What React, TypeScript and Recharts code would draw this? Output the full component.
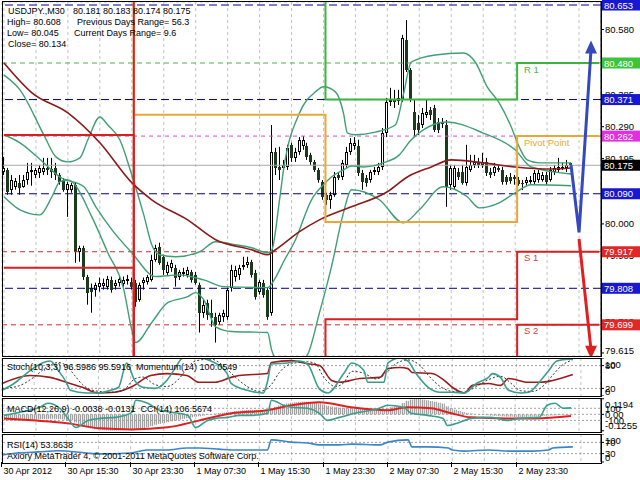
import React from 'react';
import { ComposedChart, Bar, Line, XAxis, YAxis, CartesianGrid, ReferenceLine } from 'recharts';

const FONT = '"Liberation Sans", Arial, sans-serif';

// USDJPY M30 candles, bar 0 = 30 Apr 07:30
const open = [
  80.155, 80.161, 80.102, 80.111, 80.123, 80.111, 80.131, 80.155, 80.146, 80.152,
  80.155, 80.167, 80.164, 80.167, 80.146, 80.131, 80.102, 80.102, 80.117, 79.917,
  79.929, 79.843, 79.81, 79.804, 79.813, 79.816, 79.813, 79.833, 79.816, 79.825,
  79.822, 79.831, 79.828, 79.825, 79.774, 79.825, 79.828, 79.833, 79.893, 79.932,
  79.902, 79.854, 79.869, 79.869, 79.843, 79.851, 79.848, 79.857, 79.848, 79.819,
  79.735, 79.765, 79.735, 79.723, 79.708, 79.723, 79.723, 79.81, 79.843, 79.848,
  79.872, 79.878, 79.887, 79.854, 79.798, 79.825, 79.804, 79.735, 80.215, 80.17,
  80.167, 80.17, 80.236, 80.197, 80.215, 80.233, 80.233, 80.206, 80.185, 80.161,
  80.126, 80.087, 80.072, 80.087, 80.146, 80.14, 80.176, 80.215, 80.233, 80.233,
  80.152, 80.137, 80.131, 80.155, 80.155, 80.17, 80.271, 80.364, 80.37, 80.367,
  80.37, 80.549, 80.459, 80.334, 80.301, 80.295, 80.325, 80.34, 80.346, 80.304,
  80.304, 80.295, 80.117, 80.111, 80.155, 80.155, 80.123, 80.161, 80.176, 80.185,
  80.176, 80.185, 80.155, 80.152, 80.167, 80.161, 80.14, 80.14, 80.14, 80.131,
  80.123, 80.123, 80.126, 80.126, 80.131, 80.131, 80.146, 80.131, 80.155, 80.161,
  80.167, 80.167, 80.181,
];
const high = [
  80.2, 80.167, 80.146, 80.137, 80.146, 80.146, 80.182, 80.182, 80.167, 80.176,
  80.197, 80.197, 80.197, 80.182, 80.152, 80.137, 80.126, 80.123, 80.123, 79.935,
  79.935, 79.848, 79.822, 79.825, 79.84, 79.837, 79.845, 79.843, 79.833, 79.845,
  79.843, 79.848, 79.84, 79.833, 79.825, 79.84, 79.848, 79.908, 79.938, 79.944,
  79.908, 79.887, 79.893, 79.878, 79.863, 79.869, 79.872, 79.863, 79.857, 79.825,
  79.774, 79.774, 79.774, 79.735, 79.735, 79.744, 79.81, 79.878, 79.875, 79.878,
  79.902, 79.902, 79.893, 79.863, 79.833, 79.833, 79.81, 80.295, 80.227, 80.23,
  80.191, 80.236, 80.242, 80.227, 80.259, 80.262, 80.242, 80.212, 80.191, 80.167,
  80.131, 80.093, 80.096, 80.155, 80.155, 80.191, 80.23, 80.256, 80.259, 80.251,
  80.161, 80.146, 80.161, 80.17, 80.182, 80.286, 80.376, 80.406, 80.4, 80.4,
  80.564, 80.608, 80.465, 80.37, 80.325, 80.346, 80.37, 80.349, 80.355, 80.316,
  80.316, 80.31, 80.176, 80.176, 80.167, 80.176, 80.236, 80.206, 80.206, 80.197,
  80.212, 80.197, 80.167, 80.182, 80.176, 80.17, 80.146, 80.152, 80.146, 80.14,
  80.131, 80.14, 80.143, 80.161, 80.161, 80.155, 80.155, 80.17, 80.176, 80.197,
  80.182, 80.191, 80.183,
];
const low = [
  80.146, 80.087, 80.087, 80.102, 80.087, 80.108, 80.117, 80.114, 80.137, 80.137,
  80.146, 80.146, 80.137, 80.131, 80.117, 80.096, 80.021, 80.093, 79.884, 79.887,
  79.833, 79.759, 79.735, 79.783, 79.798, 79.804, 79.804, 79.795, 79.804, 79.813,
  79.813, 79.819, 79.804, 79.753, 79.768, 79.804, 79.819, 79.828, 79.887, 79.878,
  79.848, 79.845, 79.857, 79.813, 79.833, 79.843, 79.84, 79.825, 79.819, 79.676,
  79.72, 79.714, 79.693, 79.646, 79.699, 79.708, 79.714, 79.798, 79.828, 79.833,
  79.863, 79.869, 79.84, 79.774, 79.789, 79.78, 79.714, 79.726, 80.146, 80.131,
  80.155, 80.161, 80.185, 80.185, 80.206, 80.221, 80.191, 80.176, 80.155, 80.123,
  80.072, 80.057, 80.045, 80.081, 80.131, 80.131, 80.167, 80.206, 80.221, 80.143,
  80.102, 80.111, 80.123, 80.146, 80.146, 80.161, 80.259, 80.352, 80.346, 80.355,
  80.364, 80.453, 80.364, 80.259, 80.265, 80.286, 80.316, 80.31, 80.274, 80.271,
  80.286, 80.051, 80.102, 80.102, 80.131, 80.117, 80.114, 80.155, 80.167, 80.167,
  80.167, 80.143, 80.137, 80.143, 80.155, 80.117, 80.117, 80.12, 80.117, 80.114,
  80.101, 80.114, 80.12, 80.117, 80.123, 80.126, 80.117, 80.126, 80.146, 80.155,
  80.161, 80.155, 80.174,
];
const close = [
  80.167, 80.096, 80.131, 80.128, 80.108, 80.131, 80.155, 80.161, 80.161, 80.167,
  80.167, 80.161, 80.155, 80.146, 80.126, 80.102, 80.12, 80.117, 79.917, 79.929,
  79.843, 79.795, 79.798, 79.819, 79.825, 79.825, 79.837, 79.804, 79.825, 79.837,
  79.833, 79.837, 79.813, 79.768, 79.819, 79.833, 79.843, 79.893, 79.929, 79.884,
  79.863, 79.878, 79.884, 79.84, 79.857, 79.857, 79.863, 79.833, 79.825, 79.735,
  79.759, 79.729, 79.72, 79.699, 79.729, 79.735, 79.804, 79.863, 79.863, 79.869,
  79.878, 79.887, 79.848, 79.783, 79.828, 79.789, 79.723, 80.215, 80.167, 80.161,
  80.176, 80.227, 80.197, 80.215, 80.251, 80.251, 80.2, 80.185, 80.161, 80.131,
  80.081, 80.072, 80.087, 80.14, 80.137, 80.182, 80.215, 80.242, 80.242, 80.152,
  80.126, 80.123, 80.155, 80.161, 80.17, 80.271, 80.364, 80.37, 80.364, 80.376,
  80.555, 80.459, 80.37, 80.28, 80.28, 80.331, 80.334, 80.325, 80.28, 80.28,
  80.299, 80.111, 80.167, 80.167, 80.14, 80.123, 80.17, 80.176, 80.185, 80.176,
  80.185, 80.152, 80.146, 80.17, 80.161, 80.126, 80.126, 80.128, 80.134, 80.12,
  80.12, 80.131, 80.131, 80.152, 80.152, 80.146, 80.126, 80.161, 80.167, 80.17,
  80.17, 80.176, 80.175,
];

// indicator lines read at key bars: [bar, value]
const maPts = [[0, 80.48], [7, 80.391], [16, 80.331], [24, 80.242], [32, 80.123], [37, 80.072], [46, 80.012], [53, 79.953], [62, 79.923], [66, 79.908], [68, 79.923], [74, 79.977], [79, 80.012], [87, 80.051], [96, 80.096], [101, 80.14], [107, 80.17], [112, 80.191], [120, 80.182], [128, 80.17], [137, 80.164], [142, 80.167]];
const bbUpPts = [[0, 80.444], [4, 80.4], [10, 80.265], [13, 80.2], [16, 80.185], [19, 80.197], [21, 80.251], [24, 80.319], [26, 80.295], [29, 80.251], [32, 80.146], [35, 80.027], [37, 79.938], [39, 79.908], [43, 79.902], [49, 79.917], [53, 79.947], [58, 79.938], [62, 79.929], [66, 79.914], [67, 79.92], [69, 80.072], [70, 80.161], [74, 80.331], [78, 80.394], [80, 80.409], [83, 80.394], [85, 80.331], [86, 80.271], [88, 80.266], [93, 80.274], [98, 80.295], [100, 80.385], [102, 80.483], [108, 80.504], [115, 80.51], [118, 80.483], [121, 80.409], [124, 80.361], [127, 80.29], [129, 80.23], [131, 80.191], [134, 80.182], [142, 80.182]];
const bbMidPts = [[0, 80.266], [4, 80.242], [10, 80.182], [14, 80.14], [20, 80.111], [23, 80.051], [27, 79.983], [32, 79.914], [38, 79.843], [44, 79.848], [50, 79.833], [55, 79.813], [66, 79.81], [68, 79.84], [70, 79.887], [73, 79.953], [77, 80.072], [80, 80.117], [82, 80.14], [85, 80.161], [87, 80.173], [90, 80.17], [95, 80.182], [99, 80.206], [102, 80.251], [111, 80.304], [120, 80.271], [128, 80.221], [132, 80.17], [142, 80.149]];
const bbLowPts = [[0, 80.081], [4, 80.042], [9, 80.027], [12, 80.081], [14, 80.126], [16, 80.131], [17, 80.126], [22, 80.021], [26, 79.914], [30, 79.804], [32, 79.684], [33, 79.646], [37, 79.706], [41, 79.765], [46, 79.783], [48, 79.795], [50, 79.774], [53, 79.693], [57, 79.679], [66, 79.676], [67, 79.625], [69, 79.58], [72, 79.559], [74, 79.589], [76, 79.61], [79, 79.735], [82, 79.872], [85, 80.033], [87, 80.102], [94, 80.072], [100, 80.003], [104, 80.042], [110, 80.111], [116, 80.081], [119, 80.048], [124, 80.063], [128, 80.093], [132, 80.117], [142, 80.114]];

// daily pivot levels (day 1 starts at bar 0); values outside the window get clipped
const dayStarts = [0, 33, 81, 129];
const pivotDay = [80.75, 80.326, 80.006, 80.262];
const r1Day = [80.95, 80.85, 80.371, 80.48];
const s1Day = [80.7, 79.45, 79.716, 79.917];
const s2Day = [80.265, 79.35, 79.4, 79.699];
const s3Day = [79.869, 79.3, 79.3, 79.45];

const blueArrowPts = [[142, 80.175], [144, 79.975], [147, 80.52]];
const redArrowPts = [[144, 79.955], [147, 79.625]];

const priceTicks = [80.58, 80.483, 80.385, 80.29, 80.195, 80.098, 80.0, 79.905, 79.808, 79.71, 79.615];
const levelValues = [80.653, 80.48, 80.371, 80.262, 80.175, 80.09, 79.917, 79.808, 79.699];
const levelBoxColors = ['#1818d0', '#3cc43c', '#1818d0', '#e030e0', '#000000', '#1818d0', '#e02828', '#1818d0', '#e02828'];
const levelLineColors = ['#000080', '#50b050', '#000080', '#d050d0', '#a8a8a8', '#000080', '#c83030', '#000080', '#c83030'];
const levelDash = ['8 4', '5 4', '8 4', '4 4', '', '8 4', '5 4', '8 4', '5 4'];

const stochPts = [[0, 15], [3, 33], [7, 67], [10, 87], [12, 92], [14, 67], [16, 36], [17, 15], [21, 8], [24, 8], [27, 15], [29, 23], [31, 87], [33, 41], [35, 23], [38, 20], [41, 41], [43, 72], [45, 100], [49, 100], [52, 92], [56, 59], [57, 33], [61, 15], [65, 8], [66, 36], [67, 84], [71, 87], [74, 92], [76, 84], [79, 18], [81, 8], [85, 59], [87, 87], [90, 67], [91, 36], [95, 36], [96, 87], [99, 100], [101, 92], [103, 59], [106, 23], [109, 10], [112, 10], [115, 8], [118, 33], [121, 49], [122, 59], [124, 49], [126, 15], [129, 8], [131, 10], [134, 41], [136, 67], [138, 92], [141, 97], [142, 96.5986]];
const stochSigPts = [[0, 20], [4, 26], [8, 50], [11, 75], [14, 88], [16, 80], [18, 55], [20, 30], [23, 14], [27, 10], [30, 14], [33, 45], [35, 50], [38, 30], [41, 25], [44, 45], [46, 72], [48, 92], [52, 97], [55, 80], [58, 50], [61, 25], [64, 12], [67, 30], [69, 62], [72, 85], [76, 90], [78, 85], [80, 50], [83, 25], [85, 35], [87, 65], [90, 60], [93, 45], [95, 55], [98, 85], [101, 95], [104, 80], [106, 55], [109, 25], [112, 12], [115, 10], [118, 25], [121, 43], [124, 52], [127, 30], [129, 14], [132, 12], [135, 30], [137, 55], [139, 78], [142, 95.5916]];
const momPts = [[0, 99.82], [7, 100.03], [12, 99.98], [16, 99.85], [20, 99.72], [24, 99.57], [28, 99.59], [32, 99.72], [37, 100.03], [41, 100.08], [46, 100.03], [49, 99.85], [53, 99.85], [57, 99.98], [59, 100.03], [66, 100.08], [67, 100.37], [72, 100.42], [76, 100.34], [79, 100.29], [82, 99.9], [84, 99.85], [89, 99.95], [94, 99.98], [96, 100.21], [99, 100.24], [101, 100.21], [102, 100.11], [107, 100.08], [110, 99.9], [112, 99.72], [115, 99.57], [117, 99.77], [121, 99.82], [124, 99.77], [126, 99.95], [131, 99.85], [134, 99.85], [137, 99.9], [142, 100.0549]];

const macdHist = [
  -0.048, -0.048, -0.049, -0.048, -0.047, -0.046, -0.044, -0.042, -0.04, -0.038, -0.036, -0.035, -0.034, -0.034, -0.036, -0.04,
  -0.044, -0.046, -0.062, -0.074, -0.088, -0.1, -0.108, -0.114, -0.118, -0.121, -0.123, -0.125, -0.124, -0.122, -0.12,
  -0.117, -0.115, -0.116, -0.112, -0.106, -0.1, -0.09, -0.08, -0.073, -0.067, -0.06, -0.053, -0.048, -0.041, -0.035, -0.029, -0.023, -0.017, -0.015, -0.01,
  -0.004, 0.002, 0.006, 0.01, 0.013, 0.016, 0.02, 0.024, 0.027, 0.03, 0.033, 0.034, 0.033, 0.032, 0.03, 0.026,
  0.045, 0.058, 0.068, 0.077, 0.084, 0.089, 0.092, 0.095, 0.097, 0.096, 0.093, 0.089, 0.083,
  0.075, 0.067, 0.06, 0.055, 0.051, 0.048, 0.047, 0.047, 0.046, 0.044, 0.041, 0.038, 0.035, 0.032, 0.03, 0.034, 0.045, 0.054, 0.06, 0.065,
  0.086, 0.103, 0.113, 0.119, 0.117, 0.113, 0.108, 0.102, 0.096, 0.089, 0.082, 0.062, 0.048, 0.036, 0.026, 0.018, 0.012, 0.007, 0.003,
  -0.001, -0.004, -0.007, -0.01, -0.012, -0.014, -0.016, -0.018, -0.019, -0.02, -0.021, -0.021, -0.02, -0.019, -0.017, -0.015, -0.013, -0.011, -0.009, -0.008, -0.006, -0.005, -0.004, -0.0038,
];
const macdSigPts = [[0, -0.031], [7, -0.046], [16, -0.069], [24, -0.107], [32, -0.115], [41, -0.099], [49, -0.046], [57, 0.008], [66, 0.031], [72, 0.069], [79, 0.092], [87, 0.054], [96, 0.031], [101, 0.054], [107, 0.046], [112, 0.008], [117, -0.023], [126, -0.031], [133, -0.031], [142, -0.0131]];
const cciPts = [[0, -17], [4, 33], [9, 117], [11, 184], [14, 100], [16, -67], [18, -217], [21, -100], [24, -67], [28, -50], [32, 33], [33, 234], [36, 184], [39, 67], [42, 33], [46, -17], [48, -217], [51, -100], [53, -67], [56, -50], [59, -17], [62, -17], [66, 17], [67, 234], [70, 150], [72, 117], [76, 100], [79, 17], [81, -100], [84, -50], [89, 33], [94, 100], [96, 150], [100, 117], [102, 17], [106, -17], [110, -67], [111, -184], [114, -134], [117, -67], [122, -50], [126, -100], [129, -67], [134, -50], [136, 150], [138, 184], [140, 100], [142, 106.5674]];
const rsiPts = [[0, 25], [4, 32], [9, 36], [14, 40], [21, 32], [24, 29], [32, 32], [36, 43], [41, 43], [46, 50], [49, 50], [54, 46], [57, 43], [62, 43], [66, 43], [67, 79], [72, 71], [76, 68], [79, 61], [84, 61], [87, 64], [94, 61], [96, 71], [101, 79], [102, 54], [106, 54], [111, 50], [112, 43], [115, 39], [121, 43], [126, 39], [132, 39], [136, 43], [137, 50], [142, 53.8638]];

const gridTicks = [0, 8, 16, 24, 32, 40, 48, 56, 64, 72, 80, 88, 96, 104, 112, 120, 128, 136, 144];
const timeTicks = [0, 16, 32, 48, 64, 80, 96, 112, 128];
const timeLabels = ['30 Apr 2012', '30 Apr 15:30', '30 Apr 23:30', '1 May 07:30', '1 May 15:30', '1 May 23:30', '2 May 07:30', '2 May 15:30', '2 May 23:30'];

const SLOTS = 150;
const rows: any[] = Array.from({ length: SLOTS }, (_, i) => {
  const d = dayStarts.filter((s) => s <= i).length - 1;
  const row: any = { i, pivot: pivotDay[d], r1: r1Day[d], s1: s1Day[d], s2: s2Day[d], s3: s3Day[d] };
  if (i < close.length) {
    row.o = open[i];
    row.h = high[i];
    row.l = low[i];
    row.c = close[i];
    row.macd = macdHist[i];
  }
  return row;
});
function addPts(key: string, pts: number[][]) {
  pts.forEach(([i, v]) => {
    rows[i][key] = v;
  });
}
addPts('ma', maPts);
addPts('bbU', bbUpPts);
addPts('bbM', bbMidPts);
addPts('bbL', bbLowPts);
addPts('blue', blueArrowPts);
addPts('red', redArrowPts);
addPts('stoch', stochPts);
addPts('stochSig', stochSigPts);
addPts('mom', momPts);
addPts('macdSig', macdSigPts);
addPts('cci', cciPts);
addPts('rsi', rsiPts);

const BB = '#3f9f74';
const TEAL = '#3a9e8c';
const GRID = '#c4c4c4';
const MARGIN = { top: 0, right: 0, left: 2, bottom: 0 };

function Candle(props: any) {
  const { x, width, payload } = props;
  let { y, height } = props;
  if (!payload || payload.h == null) return null;
  if (height < 0) {
    y += height;
    height = -height;
  }
  const { o, h, l, c } = payload;
  const k = h > l ? height / (h - l) : 0;
  const cx = Math.floor(x + width / 2) + 0.5;
  const yo = y + (h - o) * k;
  const yc = y + (h - c) * k;
  const top = Math.round(Math.min(yo, yc));
  const bh = Math.max(Math.round(Math.abs(yc - yo)), 1);
  const bull = c >= o;
  return (
    <g>
      <line x1={cx} x2={cx} y1={y} y2={y + height} stroke="#000" strokeWidth={1} />
      {bull ? (
        <rect x={cx - 1} y={top + 0.5} width={2} height={Math.max(bh - 1, 1)} fill="#fff" stroke="#000" strokeWidth={1} />
      ) : (
        <rect x={cx - 1.5} y={top} width={3} height={bh} fill="#1c3a1c" />
      )}
    </g>
  );
}

// price scale labels drawn as reference-line labels so the level boxes can sit on top
function priceLabel(text: string, dy: number) {
  return (props: any) => {
    const vb = props.viewBox || {};
    const ax = (vb.x || 0) + (vb.width || 0);
    const ay = vb.y || 0;
    return (
      <g>
        <line x1={ax} x2={ax + 3} y1={ay} y2={ay} stroke="#000" />
        <text x={ax + 4} y={ay + 3.5 + dy} fontSize={9.5} fontFamily={FONT} fill="#000">
          {text}
        </text>
      </g>
    );
  };
}

function levelBox(color: string, text: string) {
  return (props: any) => {
    const vb = props.viewBox || {};
    const bx = (vb.x || 0) + (vb.width || 0) + 1;
    const by = vb.y || 0;
    return (
      <g>
        <rect x={bx} y={by - 5.5} width={38} height={11} fill={color} />
        <text x={bx + 2} y={by + 3.5} fontSize={9.5} fontFamily={FONT} fill="#fff">
          {text}
        </text>
      </g>
    );
  };
}

function SideTick(props: any) {
  const { x, y, payload, top, bottom, fmt } = props;
  let dy = 3.5;
  if (payload.value === top) dy += 6;
  if (payload.value === bottom) dy -= 5;
  return (
    <text x={x} y={y} dy={dy} fontSize={9.5} fontFamily={FONT} fill="#000">
      {fmt(payload.value)}
    </text>
  );
}

function sideLabel(text: string) {
  return (props: any) => {
    const vb = props.viewBox || {};
    return (
      <text x={(vb.x || 0) + (vb.width || 0) + 4} y={(vb.y || 0) + 3.5} fontSize={9.5} fontFamily={FONT} fill="#000">
        {text}
      </text>
    );
  };
}

function TimeTick(props: any) {
  const { x, y, payload } = props;
  const k = timeTicks.indexOf(payload.value);
  if (k < 0) return <g />;
  const tx = Math.round(x) - 0.5;
  return (
    <g>
      <line x1={tx} x2={tx} y1={y - 8} y2={y - 3} stroke="#000" />
      <text x={tx + 2} y={y + 4} fontSize={9} fontFamily={FONT} fill="#000">
        {timeLabels[k]}
      </text>
    </g>
  );
}

function arrowHead(lastIndex: number, color: string, up: boolean) {
  return (props: any) => {
    const { cx, cy, index } = props;
    if (index !== lastIndex || cx == null) return <g key={`a${index}`} />;
    const d = up
      ? `M${cx},${cy - 9} L${cx - 6},${cy + 4} L${cx + 6},${cy + 4} Z`
      : `M${cx},${cy + 9} L${cx - 6},${cy - 4} L${cx + 6},${cy - 4} Z`;
    return <path key={`a${index}`} d={d} fill={color} />;
  };
}

function MainPanel() {
  return (
    <ComposedChart width={640} height={356} data={rows} margin={{ ...MARGIN, top: 2 }}>
      <CartesianGrid stroke={GRID} strokeDasharray="3 3" />
      <XAxis dataKey="i" type="category" hide ticks={gridTicks} interval={0} />
      <YAxis
        orientation="right"
        width={39}
        domain={[79.606, 80.662]}
        allowDataOverflow
        ticks={priceTicks}
        interval={0}
        axisLine={{ stroke: '#000' }}
        tickLine={false}
        tick={false}
      />
      {priceTicks.map((v, k) => (
        <ReferenceLine key={`p${v}`} y={v} stroke="none" label={priceLabel(v.toFixed(3), k === priceTicks.length - 1 ? -2 : 0)} />
      ))}
      {levelValues.map((v, k) => (
        <ReferenceLine
          key={v}
          y={v}
          stroke={levelLineColors[k]}
          strokeDasharray={levelDash[k] || undefined}
          label={levelBox(levelBoxColors[k], v.toFixed(3))}
        />
      ))}
      <Line dataKey="bbU" stroke={BB} strokeWidth={1.4} dot={false} connectNulls type="monotone" isAnimationActive={false} />
      <Line dataKey="bbM" stroke={BB} strokeWidth={1.4} dot={false} connectNulls type="monotone" isAnimationActive={false} />
      <Line dataKey="bbL" stroke={BB} strokeWidth={1.4} dot={false} connectNulls type="monotone" isAnimationActive={false} />
      <Line dataKey="ma" stroke="#8b1a1a" strokeWidth={1.6} dot={false} connectNulls type="monotone" isAnimationActive={false} />
      <Bar
        dataKey={(r: any) => (r.h != null ? [r.l, r.h] : undefined)}
        barSize={3}
        shape={(p: any) => <Candle {...p} />}
        isAnimationActive={false}
      />
      <Line dataKey="pivot" stroke="#e8a838" strokeWidth={2} dot={false} type="step" isAnimationActive={false} />
      <Line dataKey="r1" stroke="#3cb43c" strokeWidth={2} dot={false} type="step" isAnimationActive={false} />
      <Line dataKey="s1" stroke="#d82020" strokeWidth={2} dot={false} type="step" isAnimationActive={false} />
      <Line dataKey="s2" stroke="#d82020" strokeWidth={2} dot={false} type="step" isAnimationActive={false} />
      <Line dataKey="s3" stroke="#d82020" strokeWidth={2} dot={false} type="step" isAnimationActive={false} />
      <Line dataKey="blue" stroke="#3448c0" strokeWidth={3} connectNulls type="linear" dot={arrowHead(147, '#3448c0', true)} isAnimationActive={false} />
      <Line dataKey="red" stroke="#e02020" strokeWidth={3} connectNulls type="linear" dot={arrowHead(147, '#e02020', false)} isAnimationActive={false} />
    </ComposedChart>
  );
}

function StochPanel() {
  return (
    <ComposedChart width={640} height={38} data={rows} margin={MARGIN}>
      <CartesianGrid stroke={GRID} strokeDasharray="3 3" horizontal={false} />
      <XAxis dataKey="i" type="category" hide ticks={gridTicks} interval={0} />
      <YAxis
        orientation="right"
        width={39}
        domain={[0, 100]}
        ticks={[100, 80, 20, 0]}
        interval={0}
        tickSize={3}
        tickMargin={1}
        axisLine={{ stroke: '#000' }}
        tickLine={{ stroke: '#000' }}
        tick={(p: any) => <SideTick {...p} top={100} bottom={0} fmt={String} />}
      />
      <YAxis yAxisId="mom" hide domain={[99.49, 100.49]} />
      <ReferenceLine y={80} stroke="#a0a0a0" strokeDasharray="2 2" />
      <ReferenceLine y={20} stroke="#a0a0a0" strokeDasharray="2 2" />
      <Line dataKey="mom" yAxisId="mom" stroke="#9b1c1c" strokeWidth={1.6} dot={false} connectNulls type="monotone" isAnimationActive={false} />
      <Line dataKey="stochSig" stroke="#333" strokeWidth={1} strokeDasharray="2 2" dot={false} connectNulls type="monotone" isAnimationActive={false} />
      <Line dataKey="stoch" stroke={TEAL} strokeWidth={1.6} dot={false} connectNulls type="monotone" isAnimationActive={false} />
    </ComposedChart>
  );
}

function MacdPanel() {
  const macdLabels: Record<string, string> = { '0.1194': '0.1194', '0': '0.00', '-0.1255': '-0.1255' };
  return (
    <ComposedChart width={640} height={34} data={rows} margin={MARGIN}>
      <defs>
        <pattern id="hatch" width="2" height="2" patternUnits="userSpaceOnUse">
          <rect x="0" y="0" width="1" height="2" fill="#a0a0a0" />
          <rect x="1" y="0" width="1" height="2" fill="#e4e4e4" />
        </pattern>
      </defs>
      <CartesianGrid stroke={GRID} strokeDasharray="3 3" horizontal={false} />
      <XAxis dataKey="i" type="category" hide ticks={gridTicks} interval={0} />
      <YAxis
        orientation="right"
        width={39}
        domain={[-0.135, 0.125]}
        ticks={[0.1194, 0, -0.1255]}
        interval={0}
        tickSize={3}
        tickMargin={1}
        axisLine={{ stroke: '#000' }}
        tickLine={{ stroke: '#000' }}
        tick={(p: any) => <SideTick {...p} top={0.1194} bottom={-0.1255} fmt={(v: number) => macdLabels[String(v)]} />}
      />
      <YAxis yAxisId="cci" hide domain={[-292, 270]} />
      <ReferenceLine yAxisId="cci" y={100} stroke="#a0a0a0" strokeDasharray="2 2" label={sideLabel('100')} />
      <ReferenceLine yAxisId="cci" y={0} stroke="#a0a0a0" strokeDasharray="2 2" />
      <ReferenceLine yAxisId="cci" y={-100} stroke="#a0a0a0" strokeDasharray="2 2" label={sideLabel('-100')} />
      <Bar dataKey="macd" barSize={4} fill="url(#hatch)" isAnimationActive={false} />
      <Line dataKey="macdSig" stroke="#e02020" strokeWidth={2} dot={false} connectNulls type="monotone" isAnimationActive={false} />
      <Line dataKey="cci" yAxisId="cci" stroke={TEAL} strokeWidth={1.6} dot={false} connectNulls type="monotone" isAnimationActive={false} />
    </ComposedChart>
  );
}

function RsiPanel() {
  return (
    <ComposedChart width={640} height={46} data={rows} margin={MARGIN}>
      <CartesianGrid stroke={GRID} strokeDasharray="3 3" horizontal={false} />
      <XAxis dataKey="i" type="category" ticks={gridTicks} interval={0} height={18} axisLine={false} tickLine={false} tick={TimeTick} />
      <YAxis
        orientation="right"
        width={39}
        domain={[0, 100]}
        ticks={[100, 70, 30, 0]}
        interval={0}
        tickSize={3}
        tickMargin={1}
        axisLine={{ stroke: '#000' }}
        tickLine={{ stroke: '#000' }}
        tick={(p: any) => <SideTick {...p} top={100} bottom={0} fmt={String} />}
      />
      <ReferenceLine y={70} stroke="#a0a0a0" strokeDasharray="2 2" />
      <ReferenceLine y={30} stroke="#a0a0a0" strokeDasharray="2 2" />
      <Line dataKey="rsi" stroke="#3a86c8" strokeWidth={1.6} dot={false} connectNulls type="monotone" isAnimationActive={false} />
    </ComposedChart>
  );
}

function Txt({ x, cy, color = '#000', size = 9, children }: any) {
  return (
    <div
      style={{
        position: 'absolute',
        left: x,
        top: cy - 6,
        fontSize: size,
        lineHeight: '12px',
        whiteSpace: 'pre',
        color,
        fontFamily: FONT,
        pointerEvents: 'none',
      }}
    >
      {children}
    </div>
  );
}

function Frame({ top, height }: { top: number; height: number }) {
  return (
    <div
      style={{
        position: 'absolute',
        left: 2,
        top,
        width: 600,
        height,
        border: '1px solid #000',
        boxSizing: 'border-box',
        pointerEvents: 'none',
      }}
    />
  );
}

export default function App() {
  return (
    <div style={{ position: 'absolute', left: 0, top: 0, width: 640, height: 480, background: '#fff', overflow: 'hidden' }}>
      <div style={{ position: 'absolute', left: 0, top: 0 }}>
        <MainPanel />
      </div>
      <div style={{ position: 'absolute', left: 0, top: 358 }}>
        <StochPanel />
      </div>
      <div style={{ position: 'absolute', left: 0, top: 398 }}>
        <MacdPanel />
      </div>
      <div style={{ position: 'absolute', left: 0, top: 434 }}>
        <RsiPanel />
      </div>

      <Frame top={1} height={356} />
      <Frame top={358} height={39} />
      <Frame top={398} height={35} />
      <Frame top={434} height={30} />

      <Txt x={8} cy={10.5}>USDJPY.,M30</Txt>
      <Txt x={73} cy={10.5}>80.181 80.183 80.174 80.175</Txt>
      <Txt x={7} cy={22}>High= 80.608</Txt>
      <Txt x={77} cy={22}>Previous Days Range= 56.3</Txt>
      <Txt x={7} cy={33}>Low= 80.045</Txt>
      <Txt x={74} cy={33}>Current Days Range= 9.6</Txt>
      <Txt x={8} cy={44}>Close= 80.134</Txt>

      <Txt x={524} cy={70} color="#4cb44c" size={9.5}>R 1</Txt>
      <Txt x={524} cy={143} color="#e8a838" size={9.5}>Pivot Point</Txt>
      <Txt x={524} cy={258} color="#d84040" size={9.5}>S 1</Txt>
      <Txt x={524} cy={331} color="#d84040" size={9.5}>S 2</Txt>

      <Txt x={7} cy={367}>Stoch(10,3,3) 96.5986 95.5916  Momentum(14) 100.0549</Txt>
      <Txt x={7} cy={409}>MACD(12,26,9) -0.0038 -0.0131  CCI(14) 106.5674</Txt>
      <Txt x={7} cy={445}>RSI(14) 53.8638</Txt>
      <Txt x={7} cy={456}>Axiory MetaTrader 4, © 2001-2011 MetaQuotes Software Corp.</Txt>
    </div>
  );
}
